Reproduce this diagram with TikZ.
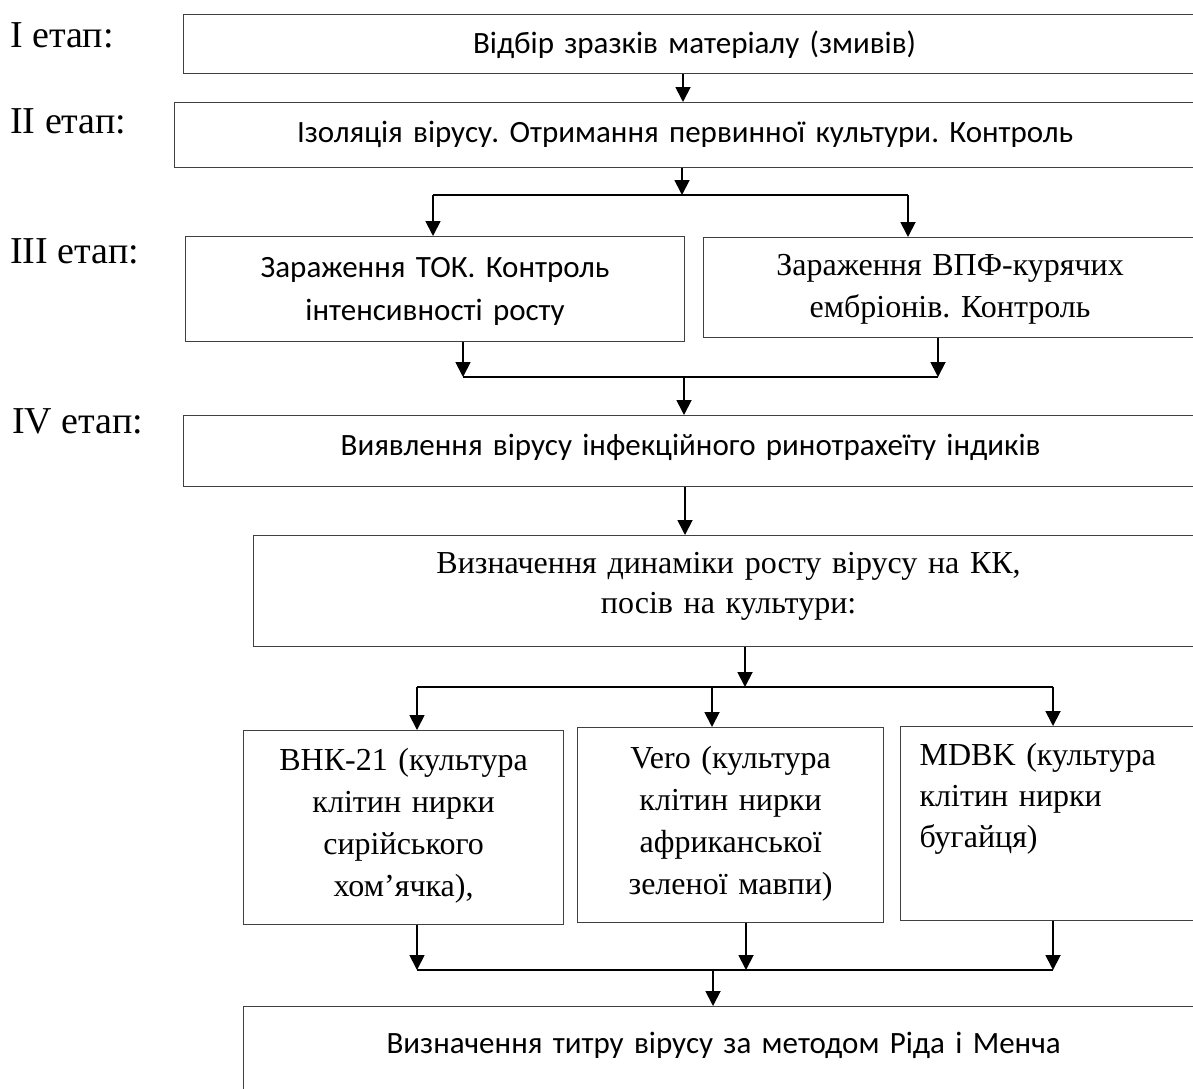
\documentclass[tikz,border=0pt]{standalone}
\usepackage{fontspec}
\setmainfont{Liberation Serif}
\newfontfamily\calibri{Carlito}
\usepackage{tikz}
\usetikzlibrary{arrows.meta, positioning, calc}
\frenchspacing

\begin{document}
\begin{tikzpicture}[
            x=1pt, y=-1pt,
            stage/.style={anchor=base west, inner sep=0pt, font=\fontsize{38}{44}\selectfont},
            box/.style={
                draw=black!75, line width=1.2pt, fill=white,
                anchor=north west, inner xsep=6pt, inner ysep=0pt, align=center
            },
            cal/.style={font=\calibri\fontsize{31}{43}\selectfont},
            tms/.style={font=\fontsize{32}{42}\selectfont},
            arr/.style={line width=1.8pt, -{Triangle[width=15pt,length=15pt]}},
            bar/.style={line width=2.4pt}
        ]
            \useasboundingbox (0,0) rectangle (1193,1088);
            \clip (0,0) rectangle (1193,1088);

            % stages
            \node[stage] (st1) at (10,47) {I етап:};
            \node[stage] (st2) at (10,133) {II етап:};
            \node[stage] (st3) at (10,263) {III етап:};
            \node[stage] (st4) at (12,433) {IV етап:};

            % boxes
            \node[box, cal, text width=1010pt, text height=39pt, text depth=20pt] (sampling) at (183,14)
                {Відбір зразків матеріалу (змивів)};
            \node[box, cal, text width=1009pt, text height=40pt, text depth=25pt] (isolation) at (174,102)
                {Ізоляція вірусу. Отримання первинної культури. Контроль};
            \node[box, cal, text width=487pt, text height=41pt, text depth=64pt] (tok) at (185,236)
                {Зараження ТОК. Контроль\\інтенсивності росту};
            \node[box, tms, text width=481pt, text height=38pt, text depth=62pt] (embryo) at (703,237)
                {Зараження ВПФ-курячих\\ембріонів. Контроль};
            \node[box, cal, text width=1002pt, text height=40pt, text depth=31pt] (detect) at (183,415)
                {Виявлення вірусу інфекційного ринотрахеїту індиків};
            \node[box, font=\fontsize{32}{40}\selectfont, text width=938pt, text height=38pt, text depth=73pt] (dynamics) at (253,535)
                {Визначення динаміки росту вірусу на КК,\\посів на культури:};
            \node[box, tms, text width=308pt, text height=40pt, text depth=154pt] (bhk) at (243,730)
                {ВНК-21 (культура\\клітин нирки\\сирійського\\хом’ячка),};
            \node[box, tms, text width=294pt, text height=41pt, text depth=154pt] (vero) at (577,727)
                {Vero (культура\\клітин нирки\\африканської\\зеленої мавпи)};
            \node[box, font=\fontsize{32}{41}\selectfont, align=left, inner xsep=19pt, text width=262pt, text height=39pt, text depth=155pt] (mdbk) at (900,726)
                {MDBK (культура\\клітин нирки\\бугайця)};
            \node[box, cal, text width=948pt, text height=47pt, text depth=57pt] (titre) at (243,1006)
                {Визначення титру вірусу за методом Ріда і Менча};

            % junctions
            \coordinate (s1) at (683,0);
            \coordinate (j1) at (682,195);
            \coordinate (j1l) at (433,195);
            \coordinate (j1r) at (908,195);
            \coordinate (j2) at (684,377);
            \coordinate (j2l) at (463,377);
            \coordinate (j2r) at (938,377);
            \coordinate (s4) at (685,0);
            \coordinate (j3) at (745,687);
            \coordinate (j3l) at (417,687);
            \coordinate (j3m) at (712,687);
            \coordinate (j3r) at (1053,687);
            \coordinate (j4) at (713,970);
            \coordinate (j4l) at (417,970);
            \coordinate (j4m) at (746,970);
            \coordinate (j4r) at (1053,970);

            % connectors
            \draw[arr] (s1 |- sampling.south) -- (s1 |- isolation.north);

            \draw[arr] (j1 |- isolation.south) -- (j1);
            \draw[bar] (j1l) -- (j1r);
            \draw[arr] (j1l) -- (j1l |- tok.north);
            \draw[arr] (j1r) -- (j1r |- embryo.north);

            \draw[arr] (j2l |- tok.south) -- (j2l);
            \draw[arr] (j2r |- embryo.south) -- (j2r);
            \draw[bar] (j2l) -- (j2r);
            \draw[arr] (j2) -- (j2 |- detect.north);

            \draw[arr] (s4 |- detect.south) -- (s4 |- dynamics.north);

            \draw[arr] (j3 |- dynamics.south) -- (j3);
            \draw[bar] (j3l) -- (j3r);
            \draw[arr] (j3l) -- (j3l |- bhk.north);
            \draw[arr] (j3m) -- (j3m |- vero.north);
            \draw[arr] (j3r) -- (j3r |- mdbk.north);

            \draw[arr] (j4l |- bhk.south) -- (j4l);
            \draw[arr] (j4m |- vero.south) -- (j4m);
            \draw[arr] (j4r |- mdbk.south) -- (j4r);
            \draw[bar] (j4l) -- (j4r);
            \draw[arr] (j4) -- (j4 |- titre.north);
        \end{tikzpicture}
\end{document}
